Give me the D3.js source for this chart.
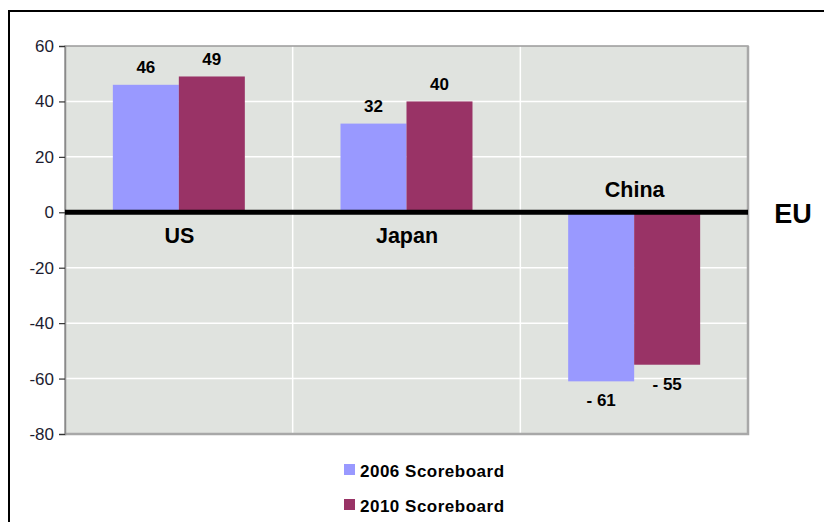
<!DOCTYPE html>
<html>
<head>
<meta charset="utf-8">
<script src="https://cdn.jsdelivr.net/npm/d3@7"></script>
<style>
  body { margin: 0; background: #fff; }
  svg text { font-family: Arial, "Liberation Sans", sans-serif; }
</style>
</head>
<body>
<div id="chart"></div>
<script>
// data
let categories = ["US", "Japan", "China"];
let seriesNames = ["2006 Scoreboard", "2010 Scoreboard"];
let values2006 = [46, 32, -61];
let values2010 = [49, 40, -55];
let yTicks = [60, 40, 20, 0, -20, -40, -60, -80];
let seriesColors = ["#9999ff", "#993366"];

function getConfig(){
  let width = 824;
  let height = 522;
  // plot body box
  let body = { left: 65, right: 748, top: 46, bottom: 434 };
  let container = d3.select("#chart")
    .append("svg")
    .attr("width", width)
    .attr("height", height);
  return {width, height, body, container};
}

function getScales(config){
  let {body} = config;
  let x0 = d3.scaleBand()
    .domain(categories)
    .range([body.left, body.right])
    .padding(0);
  let x1 = d3.scaleBand()
    .domain(seriesNames)
    .range([0, x0.bandwidth()])
    .paddingInner(0)
    .paddingOuter(0.725);
  let y = d3.scaleLinear()
    .domain([-80, 60])
    .range([body.bottom, body.top]);
  return {x0, x1, y};
}

function drawChart(config, scales){
  let {container, body, width, height} = config;
  let {x0, x1, y} = scales;

  // outer frame (only top and left visible)
  container.append("rect")
    .attr("x", 9).attr("y", 11)
    .attr("width", width + 20).attr("height", height + 20)
    .attr("fill", "none")
    .attr("stroke", "#000")
    .attr("stroke-width", 2);

  // plot background
  container.append("rect")
    .attr("x", body.left).attr("y", body.top)
    .attr("width", body.right - body.left)
    .attr("height", body.bottom - body.top)
    .attr("fill", "#e0e3df");

  // horizontal gridlines
  container.append("g")
    .selectAll("line")
    .data(yTicks.filter(d => d != 0 && d != 60 && d != -80))
    .enter()
    .append("line")
      .attr("x1", body.left).attr("x2", body.right)
      .attr("y1", d => y(d)).attr("y2", d => y(d))
      .attr("stroke", "#fff")
      .attr("stroke-width", 1.5);

  // vertical gridlines between categories
  container.append("g")
    .selectAll("line")
    .data(categories.slice(1))
    .enter()
    .append("line")
      .attr("x1", d => x0(d)).attr("x2", d => x0(d))
      .attr("y1", body.top).attr("y2", body.bottom)
      .attr("stroke", "#fff")
      .attr("stroke-width", 1.5);

  // plot border
  container.append("rect")
    .attr("x", body.left).attr("y", body.top)
    .attr("width", body.right - body.left)
    .attr("height", body.bottom - body.top)
    .attr("fill", "none")
    .attr("stroke", "#9a9a9a")
    .attr("stroke-width", 1.5);
  container.append("path")
    .attr("d", `M${body.right},${body.top}V${body.bottom}H${body.left}`)
    .attr("fill", "none")
    .attr("stroke", "#a8a8a8")
    .attr("stroke-width", 2.5);

  // y axis
  let yAxis = container.append("g")
    .attr("transform", "translate(" + body.left + ",0)")
    .call(d3.axisLeft(y).tickValues(yTicks).tickSize(6).tickPadding(5).tickFormat(d => String(d)));
  yAxis.select(".domain").attr("stroke", "#8a8a8a").attr("stroke-width", 1.5);
  yAxis.selectAll(".tick line").attr("stroke", "#333").attr("stroke-width", 1.2);
  yAxis.selectAll(".tick text")
    .attr("fill", "#1c1c30")
    .attr("font-size", 17)
    .attr("font-family", "Arial, 'Liberation Sans', sans-serif");

  // bars
  let rows = [];
  categories.forEach((c, i) => {
    rows.push({cat: c, s: seriesNames[0], v: values2006[i], color: seriesColors[0]});
    rows.push({cat: c, s: seriesNames[1], v: values2010[i], color: seriesColors[1]});
  });

  container.append("g")
    .selectAll("rect")
    .data(rows)
    .enter()
    .append("rect")
      .attr("x", d => x0(d.cat) + x1(d.s))
      .attr("y", d => y(Math.max(0, d.v)))
      .attr("width", x1.bandwidth())
      .attr("height", d => Math.abs(y(d.v) - y(0)))
      .attr("fill", d => d.color);

  // zero line (the EU reference)
  container.append("line")
    .attr("x1", body.left).attr("x2", body.right)
    .attr("y1", y(0)).attr("y2", y(0))
    .attr("stroke", "#000")
    .attr("stroke-width", 5);

  container.append("text")
    .attr("x", 793).attr("y", 223)
    .attr("text-anchor", "middle")
    .attr("font-size", 27)
    .attr("font-weight", "bold")
    .attr("fill", "#000")
    .text("EU");

  // value labels
  container.append("g")
    .selectAll("text")
    .data(rows)
    .enter()
    .append("text")
      .attr("x", d => x0(d.cat) + x1(d.s) + x1.bandwidth() / 2)
      .attr("y", d => d.v >= 0 ? y(d.v) - 11.5 : y(d.v) + 25)
      .attr("text-anchor", "middle")
      .attr("font-size", 17)
      .attr("font-weight", "bold")
      .attr("fill", "#000")
      .text(d => d.v >= 0 ? d.v : "- " + Math.abs(d.v));

  // category labels, on the opposite side of the zero line
  container.append("g")
    .selectAll("text")
    .data(categories)
    .enter()
    .append("text")
      .attr("x", d => x0(d) + x0.bandwidth() / 2 + 0.5)
      .attr("y", (d, i) => values2006[i] >= 0 ? y(0) + 31 : y(0) - 15.5)
      .attr("text-anchor", "middle")
      .attr("font-size", 21.5)
      .attr("font-weight", "bold")
      .attr("fill", "#000")
      .text(d => d);

  // legend
  let legend = container.append("g")
    .selectAll("g")
    .data(seriesNames)
    .enter()
    .append("g")
      .attr("transform", (d, i) => "translate(344," + (464 + i * 35) + ")");
  legend.append("rect")
    .attr("width", 11).attr("height", 11)
    .attr("fill", (d, i) => seriesColors[i]);
  legend.append("text")
    .attr("x", 16).attr("y", 12.5)
    .attr("font-size", 17)
    .attr("font-weight", "bold")
    .attr("letter-spacing", 0.5)
    .attr("fill", "#000")
    .text(d => d);
}

let config = getConfig();
let scales = getScales(config);
drawChart(config, scales);
</script>
</body>
</html>
